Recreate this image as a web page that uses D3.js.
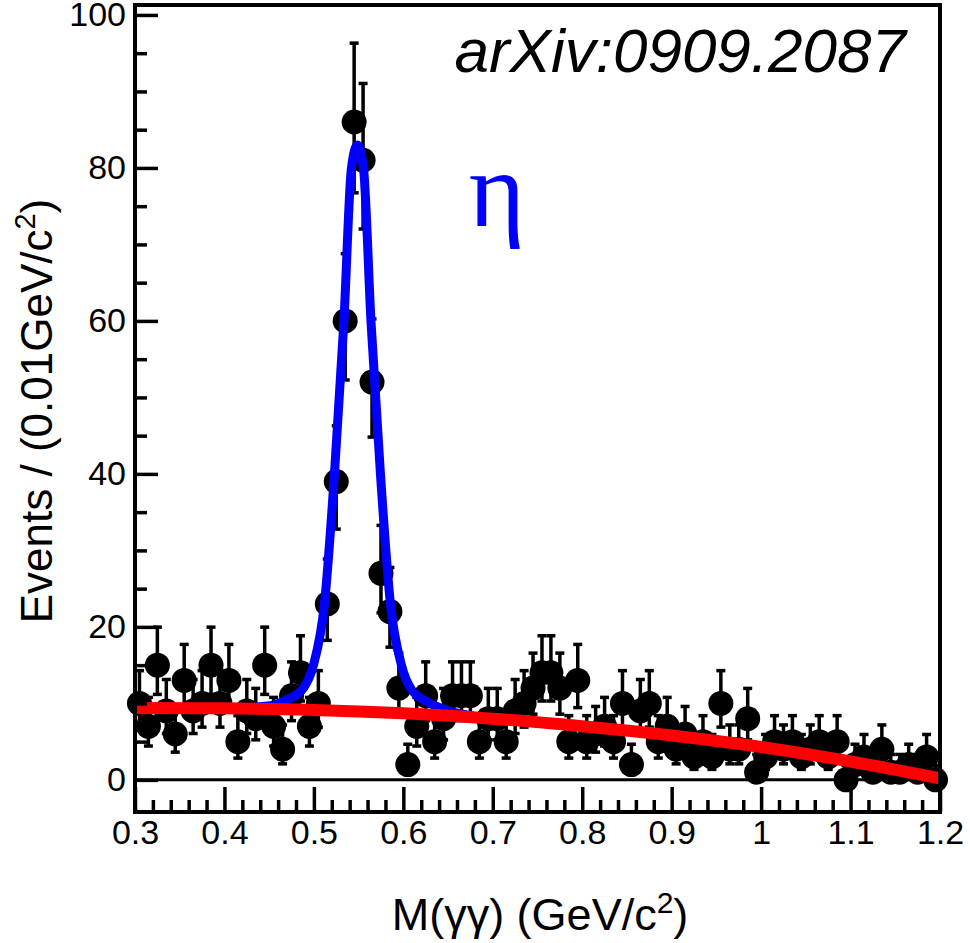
<!DOCTYPE html>
<html>
<head>
<meta charset="utf-8">
<script src="https://cdn.jsdelivr.net/npm/d3@7/dist/d3.min.js"></script>
<style>
  body { margin: 0; background: #fff; }
  svg text { fill: #000; }
</style>
</head>
<body>
<svg id="chart" width="970" height="943"></svg>
<script>
// Di-photon invariant mass spectrum, 0.01 GeV/c^2 bins (bin centres)
const massBins = [
  0.305,0.315,0.325,0.335,0.345,0.355,0.365,0.375,0.385,0.395,
  0.405,0.415,0.425,0.435,0.445,0.455,0.465,0.475,0.485,0.495,
  0.505,0.515,0.525,0.535,0.545,0.555,0.565,0.575,0.585,0.595,
  0.605,0.615,0.625,0.635,0.645,0.655,0.665,0.675,0.685,0.695,
  0.705,0.715,0.725,0.735,0.745,0.755,0.765,0.775,0.785,0.795,
  0.805,0.815,0.825,0.835,0.845,0.855,0.865,0.875,0.885,0.895,
  0.905,0.915,0.925,0.935,0.945,0.955,0.965,0.975,0.985,0.995,
  1.005,1.015,1.025,1.035,1.045,1.055,1.065,1.075,1.085,1.095,
  1.105,1.115,1.125,1.135,1.145,1.155,1.165,1.175,1.185,1.195
];
const events = [
  10, 7,15, 9, 6,13, 9,10,15,10,
  13, 5, 9, 8,15, 7, 4,11,14, 7,
  10,23,39,60,86,81,52,27,22,12,
   2, 7,11, 5, 8,11,11,11, 5, 8,
   8, 5, 9,10,12,14,14,12, 5,13,
   5, 6, 7, 5,10, 2, 9,10, 5, 7,
   4, 6, 3, 5, 3,10, 4, 4, 8, 1,
   3, 5, 4, 5, 3, 4, 5, 3, 5, 0,
   2, 3, 1, 4, 1, 1, 2, 1, 3, 0
];

// Background fit (polynomial), sampled along the mass range
const bkgMass = [0.30, 0.40, 0.50, 0.60, 0.70, 0.80, 0.90, 1.00, 1.10, 1.20];
const bkgFit  = [9.4, 9.35, 9.15, 8.7, 8.0, 7.0, 5.8, 4.3, 2.4, 0.2];

// Total fit (eta signal + background)
const totMass = [0.30, 0.40, 0.4514, 0.4704, 0.4883, 0.4995, 0.5118, 0.523, 0.5336, 0.542,
                 0.5487, 0.5554, 0.5638, 0.5744, 0.5856, 0.5979, 0.6091, 0.627, 0.646, 0.68,
                 0.70, 0.80, 0.90, 1.00, 1.10, 1.20];
const totFit  = [9.4, 9.35, 9.7, 10.5, 12, 15, 23, 40, 60, 80,
                 83, 80, 60, 40, 23, 15, 11.8, 10.2, 9.2, 8.3,
                 8.0, 7.0, 5.8, 4.3, 2.4, 0.2];

const yMajor = [0, 20, 40, 60, 80, 100];
const yMinor = [5, 10, 15, 25, 30, 35, 45, 50, 55, 65, 70, 75, 85, 90, 95];
const xMajor = [0.3, 0.4, 0.5, 0.6, 0.7, 0.8, 0.9, 1.0, 1.1, 1.2];
const xTickLabels = ["0.3","0.4","0.5","0.6","0.7","0.8","0.9","1","1.1","1.2"];
const xMinor = [0.32,0.34,0.36,0.38,0.42,0.44,0.46,0.48,0.52,0.54,0.56,0.58,
                0.62,0.64,0.66,0.68,0.72,0.74,0.76,0.78,0.82,0.84,0.86,0.88,
                0.92,0.94,0.96,0.98,1.02,1.04,1.06,1.08,1.12,1.14,1.16,1.18];

const sans = "'Liberation Sans', Arial, Helvetica, sans-serif";
const serif = "'Liberation Serif', 'Times New Roman', serif";

const svg = d3.select("#chart");
const frameL = 135, frameR = 940, frameT = 5, frameB = 812;

const x = d3.scaleLinear().domain([0.3, 1.2]).range([frameL, frameR]);
const y = d3.scaleLinear().domain([-4.2, 101.3]).range([frameB, frameT]);

// Poisson (Gehrels) asymmetric intervals for the counts
const errHi = n => Math.sqrt(n + 0.75) + 1;
const errLo = n => n <= 0 ? 0 : n - n * Math.pow(1 - 1 / (9 * n) - 1 / (3 * Math.sqrt(n)), 3);

const data = massBins.map((m, i) => ({ m, n: events[i] }));

// zero line
svg.append("line")
  .attr("x1", frameL).attr("x2", frameR)
  .attr("y1", y(0)).attr("y2", y(0))
  .attr("stroke", "#000").attr("stroke-width", 3);

// error bars
const eb = svg.append("g").attr("stroke", "#000").attr("stroke-width", 3.5);
data.forEach(d => {
  const yTop = y(d.n + errHi(d.n)), yBot = y(d.n - errLo(d.n));
  eb.append("line").attr("x1", x(d.m)).attr("x2", x(d.m)).attr("y1", yTop).attr("y2", yBot);
  eb.append("line").attr("x1", x(d.m) - 4.5).attr("x2", x(d.m) + 4.5).attr("y1", yTop).attr("y2", yTop);
  if (d.n > 0) eb.append("line").attr("x1", x(d.m) - 4.5).attr("x2", x(d.m) + 4.5).attr("y1", yBot).attr("y2", yBot);
});

// data points
svg.append("g").selectAll("circle").data(data).join("circle")
  .attr("cx", d => x(d.m)).attr("cy", d => y(d.n)).attr("r", 12.5)
  .attr("fill", "#000");

// fits
const line = d3.line().curve(d3.curveMonotoneX).x(d => x(d[0])).y(d => y(d[1]));
svg.append("path")
  .attr("d", line(totMass.map((m, i) => [m, totFit[i]])))
  .attr("fill", "none").attr("stroke", "#0000ff").attr("stroke-width", 9)
  .attr("stroke-linejoin", "round");
svg.append("path")
  .attr("d", line(bkgMass.map((m, i) => [m, bkgFit[i]])))
  .attr("fill", "none").attr("stroke", "#ff0000").attr("stroke-width", 12)
  .attr("stroke-linecap", "butt");

// axes
const yAxis = d3.axisLeft(y).tickValues(yMajor).tickSize(-23).tickPadding(9).tickSizeOuter(0);
const yAxisMinor = d3.axisLeft(y).tickValues(yMinor).tickSize(-12).tickFormat("").tickSizeOuter(0);
const xAxis = d3.axisBottom(x).tickValues(xMajor).tickFormat((d, i) => xTickLabels[i])
  .tickSize(-25).tickPadding(8).tickSizeOuter(0);
const xAxisMinor = d3.axisBottom(x).tickValues(xMinor).tickSize(-12).tickFormat("").tickSizeOuter(0);

function styleAxis(g) {
  g.select(".domain").remove();
  g.selectAll(".tick line").attr("stroke", "#000").attr("stroke-width", 3.5);
  g.selectAll(".tick text").attr("font-size", 34).attr("fill", "#000")
    .style("font-family", sans);
}
svg.append("g").attr("transform", `translate(${frameL},0)`).call(yAxis).call(styleAxis);
svg.append("g").attr("transform", `translate(${frameL},0)`).call(yAxisMinor).call(styleAxis);
svg.append("g").attr("transform", `translate(0,${frameB})`).call(xAxis).call(styleAxis);
svg.append("g").attr("transform", `translate(0,${frameB})`).call(xAxisMinor).call(styleAxis);

// frame
svg.append("rect")
  .attr("x", frameL).attr("y", frameT).attr("width", frameR - frameL).attr("height", frameB - frameT)
  .attr("fill", "none").attr("stroke", "#000").attr("stroke-width", 4);

// axis titles
const xt = svg.append("text").attr("x", 540).attr("y", 930)
  .attr("text-anchor", "middle").attr("font-size", 45).style("font-family", sans);
xt.append("tspan").text("M(\u03b3\u03b3) (GeV/c");
xt.append("tspan").attr("font-size", 30).attr("dy", -17).text("2");
xt.append("tspan").attr("dy", 17).text(")");

const yt = svg.append("text").attr("transform", "translate(52,411) rotate(-90)")
  .attr("text-anchor", "middle").attr("font-size", 44).style("font-family", sans);
yt.append("tspan").text("Events / (0.01GeV/c");
yt.append("tspan").attr("font-size", 29).attr("dy", -17).text("2");
yt.append("tspan").attr("dy", 17).text(")");

// annotations
svg.append("text").attr("x", 906).attr("y", 72).attr("text-anchor", "end")
  .attr("font-size", 62).attr("font-style", "italic").style("font-family", sans)
  .text("arXiv:0909.2087");
svg.append("text").attr("x", 497).attr("y", 226).attr("text-anchor", "middle")
  .attr("font-size", 108).style("font-family", serif)
  .style("fill", "#0000ff").text("\u03b7");
</script>
</body>
</html>
